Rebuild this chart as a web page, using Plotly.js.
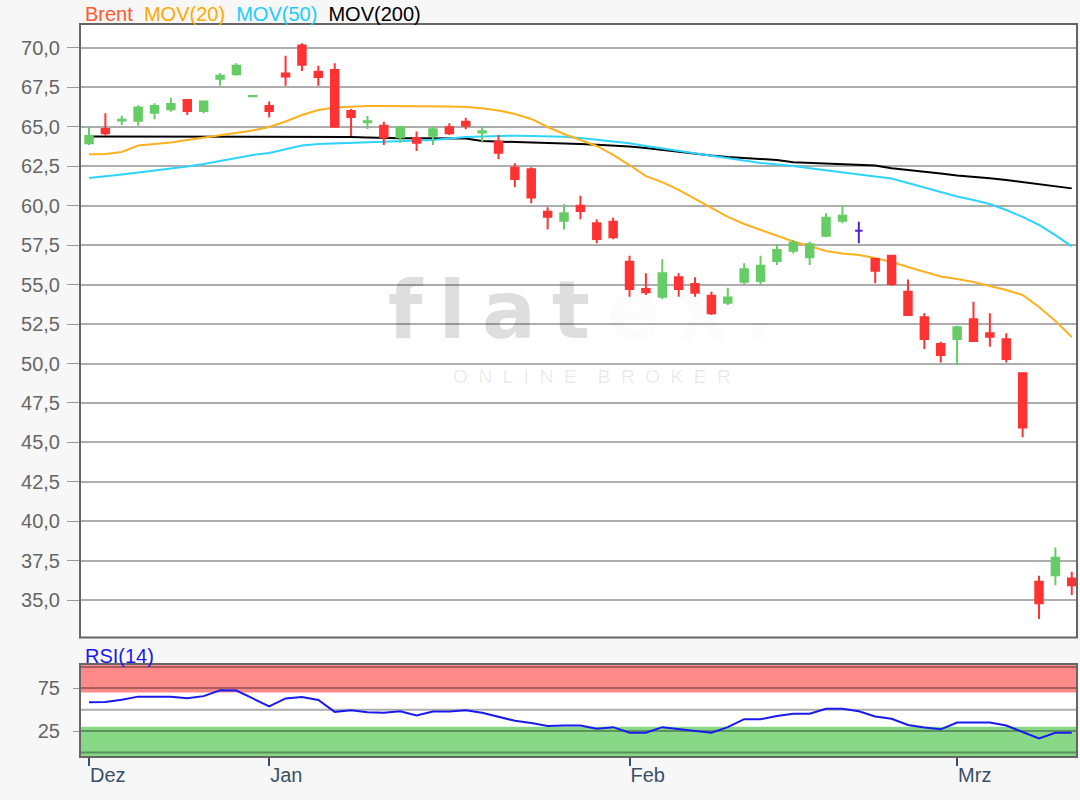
<!DOCTYPE html>
<html><head><meta charset="utf-8">
<script src="https://cdn.plot.ly/plotly-3.0.1.min.js"></script>
<style>html,body{margin:0;padding:0;background:#f7f7f7}</style>
</head><body><div id="chart" style="width:1080px;height:800px"></div>
<script>
const dates = ['2019-12-13','2019-12-16','2019-12-17','2019-12-18','2019-12-19','2019-12-20','2019-12-23','2019-12-24','2019-12-27','2019-12-30','2019-12-31',
'2020-01-02','2020-01-03','2020-01-06','2020-01-07','2020-01-08','2020-01-09','2020-01-10','2020-01-13','2020-01-14','2020-01-15','2020-01-16','2020-01-17','2020-01-20','2020-01-21','2020-01-22','2020-01-23','2020-01-24','2020-01-27','2020-01-28','2020-01-29','2020-01-30','2020-01-31',
'2020-02-03','2020-02-04','2020-02-05','2020-02-06','2020-02-07','2020-02-10','2020-02-11','2020-02-12','2020-02-13','2020-02-14','2020-02-17','2020-02-18','2020-02-19','2020-02-20','2020-02-21','2020-02-24','2020-02-25','2020-02-26','2020-02-27','2020-02-28',
'2020-03-02','2020-03-03','2020-03-04','2020-03-05','2020-03-06','2020-03-09','2020-03-10','2020-03-11'];

const open  = [63.96,64.86,65.40,65.39,65.90,66.11,66.70,66.00,68.05,68.33,66.94,66.32,68.38,70.15,68.50,68.60,66.00,65.30,65.07,64.34,64.27,64.44,64.97,65.33,64.65,64.06,62.41,62.31,59.62,59.05,60.00,58.89,58.99,56.45,54.72,54.23,55.46,55.04,54.30,53.85,55.18,55.23,56.50,57.15,56.73,58.10,59.05,58.42,56.62,56.83,54.55,52.93,51.23,51.55,52.80,51.91,51.53,49.38,36.16,36.58,36.37];
const high  = [65.00,65.86,65.71,66.37,66.49,66.85,66.72,66.62,68.40,69.03,66.97,66.60,69.51,70.30,68.88,69.03,66.13,65.69,65.33,65.00,64.70,65.00,65.23,65.58,65.00,64.48,62.69,62.44,59.90,60.09,60.64,59.14,59.24,56.83,55.72,56.60,55.72,55.46,54.55,54.80,56.35,56.83,57.57,57.83,57.72,59.52,60.00,58.99,56.62,56.87,55.33,53.18,51.38,52.39,53.91,53.18,51.91,49.40,36.54,38.34,36.80];
const low   = [63.85,64.42,65.12,65.07,65.48,65.96,65.75,65.86,67.60,68.24,66.93,65.60,67.61,68.54,67.61,64.95,64.42,64.86,63.85,64.00,63.47,63.85,64.48,64.85,64.00,62.94,61.17,60.16,58.50,58.50,59.14,57.62,57.87,54.23,54.34,54.07,54.23,54.23,53.07,53.71,55.04,54.97,56.24,56.98,56.24,58.00,58.89,57.62,55.08,54.93,53.07,50.92,50.07,49.90,51.42,51.06,50.07,45.32,33.80,35.95,35.32];
const close = [64.42,64.59,65.45,66.22,66.32,66.45,66.00,66.60,68.24,68.88,66.96,66.00,68.20,68.94,68.16,65.00,65.63,65.35,64.34,64.97,64.00,64.85,64.59,65.07,64.72,63.36,61.69,60.53,59.30,59.52,59.67,57.89,58.00,54.72,54.51,55.72,54.72,54.49,53.18,54.19,55.97,56.20,57.19,57.66,57.56,59.24,59.37,58.42,55.88,55.04,53.07,51.55,50.54,52.29,51.42,51.70,50.28,45.95,34.80,37.69,35.95];

const mov20  = [63.26,63.28,63.41,63.82,63.91,64.01,64.17,64.33,64.48,64.64,64.77,64.99,65.34,65.75,66.07,66.23,66.29,66.32,66.32,66.32,66.32,66.30,66.29,66.26,66.18,66.04,65.82,65.50,64.99,64.55,64.17,63.79,63.22,62.58,61.88,61.50,61.00,60.43,59.86,59.29,58.84,58.46,58.08,57.73,57.45,57.13,56.97,56.88,56.69,56.43,56.12,55.80,55.51,55.35,55.16,54.91,54.66,54.34,53.58,52.69,51.68];
const mov50  = [61.76,61.85,61.98,62.11,62.23,62.36,62.49,62.65,62.84,63.03,63.22,63.34,63.60,63.82,63.91,63.95,63.98,64.02,64.07,64.10,64.14,64.17,64.26,64.36,64.39,64.42,64.44,64.42,64.40,64.38,64.29,64.17,64.07,63.96,63.79,63.63,63.47,63.31,63.18,63.01,62.84,62.71,62.61,62.52,62.37,62.23,62.11,61.98,61.85,61.73,61.44,61.12,60.87,60.59,60.36,60.11,59.73,59.29,58.78,58.14,57.42];
const mov200 = [64.39,64.39,64.39,64.39,64.39,64.39,64.39,64.39,64.39,64.39,64.39,64.39,64.39,64.39,64.39,64.39,64.36,64.33,64.29,64.28,64.28,64.28,64.28,64.26,64.10,64.07,64.06,64.00,63.96,63.93,63.91,63.86,63.81,63.76,63.66,63.53,63.41,63.28,63.18,63.09,63.03,63.00,62.90,62.75,62.71,62.66,62.64,62.61,62.55,62.37,62.27,62.17,62.04,61.92,61.84,61.74,61.63,61.50,61.38,61.25,61.10];
const rsi14  = [58.6,59.0,61.5,65.2,65.2,65.2,63.2,65.8,72.6,72.4,63.1,53.7,63.1,64.9,61.2,47.4,49.3,47.0,46.3,48.1,43.3,47.8,47.8,49.3,46.3,41.4,36.9,34.3,31.0,31.3,31.3,27.6,29.5,23.1,23.1,29.5,27.6,25.0,23.1,29.5,38.8,38.8,42.5,45.2,45.2,51.1,51.1,48.0,42.0,39.4,32.0,29.0,27.0,35.0,35.0,35.0,31.5,24.3,16.2,23.0,23.0];

const monthKeys   = ['2019-12','2020-01','2020-02','2020-03'];
const monthLabels = ['Dez','Jan','Feb','Mrz'];
const rsiTicks = [25, 75];
const rsiGrid  = [0, 50, 100];
const rsiBands = [30, 70];

const n = dates.length;
const idx = dates.map((d, i) => i);
const monthIdx = monthKeys.map(k => dates.findIndex(d => d.startsWith(k)));
const moved = idx.filter(i => open[i] !== close[i]);
const flat  = idx.filter(i => open[i] === close[i]);
const pick = (arr, ix) => ix.map(i => arr[i]);

const xRange = [-0.55, n - 0.68];
const yRange = [32.63, 71.52];
const rRange = [-5.4, 103.4];
const fx = f => xRange[0] + f * (xRange[1] - xRange[0]);
const fy = f => yRange[0] + f * (yRange[1] - yRange[0]);

const FONT = 'Liberation Sans, Arial, sans-serif';
const GRID = 'rgba(0,0,0,0.32)';
const UP = '#66cc66', DOWN = '#ff3333', FLAT = '#5522cc';
const HS = '\u200a\u200a';
const wmText = '<b>f' + HS + 'l' + HS + 'a' + HS + 't' + HS + '<span style="color:rgba(0,0,0,0.085)">e' + HS + 'x' + HS + '.</span></b>';

const traces = [
  {type:'scatter', mode:'text', x:[fx(0.5025)], y:[fy(0.52)], text:[wmText],
   textfont:{family:'DejaVu Sans, sans-serif', size:80, color:'rgba(0,0,0,0.13)'}, hoverinfo:'skip', cliponaxis:false},
  {type:'scatter', mode:'text', x:[fx(0.5135)], y:[fy(0.423)], text:['O\u00a0\u00a0N\u00a0\u00a0L\u00a0\u00a0I\u00a0\u00a0N\u00a0\u00a0E\u00a0\u00a0\u00a0\u00a0B\u00a0\u00a0R\u00a0\u00a0O\u00a0\u00a0K\u00a0\u00a0E\u00a0\u00a0R'],
   textfont:{family:FONT, size:19, color:'rgba(0,0,0,0.09)'}, hoverinfo:'skip', cliponaxis:false},
  {type:'scatter', mode:'lines', x:idx, y:mov200, line:{color:'#000000', width:2}, hoverinfo:'skip'},
  {type:'scatter', mode:'lines', x:idx, y:mov50, line:{color:'#2dd4ff', width:2}, hoverinfo:'skip'},
  {type:'scatter', mode:'lines', x:idx, y:mov20, line:{color:'#ffb020', width:2}, hoverinfo:'skip'},
  {type:'candlestick', x:moved, open:pick(open,moved), high:pick(high,moved), low:pick(low,moved), close:pick(close,moved),
   xaxis:'x3', yaxis:'y3', whiskerwidth:0, hoverinfo:'skip',
   increasing:{line:{color:UP, width:2}, fillcolor:UP},
   decreasing:{line:{color:DOWN, width:2}, fillcolor:DOWN}},
  {type:'candlestick', x:flat, open:pick(open,flat), high:pick(high,flat), low:pick(low,flat), close:pick(close,flat),
   xaxis:'x3', yaxis:'y3', whiskerwidth:0, hoverinfo:'skip',
   increasing:{line:{color:FLAT, width:2}, fillcolor:FLAT},
   decreasing:{line:{color:FLAT, width:2}, fillcolor:FLAT}},
  {type:'scatter', mode:'lines', x:idx, y:rsi14, xaxis:'x2', yaxis:'y2', line:{color:'#1a1aee', width:2}, hoverinfo:'skip'}
];

const shapes = [
  {type:'rect', xref:'x2 domain', x0:0, x1:1, yref:'y2', y0:rsiBands[1], y1:rRange[1], fillcolor:'#ff8a8a', line:{width:0}, layer:'below'},
  {type:'rect', xref:'x2 domain', x0:0, x1:1, yref:'y2', y0:rRange[0], y1:rsiBands[0], fillcolor:'#88d888', line:{width:0}, layer:'below'}
].concat(rsiGrid.map(v => ({type:'line', xref:'x2 domain', x0:0, x1:1, yref:'y2', y0:v, y1:v, line:{color:GRID, width:2}, layer:'below'})))
 .concat([
  {type:'rect', xref:'paper', x0:0, x1:1, yref:'paper', y0:0.163, y1:1, line:{color:'#666', width:2}, fillcolor:'rgba(0,0,0,0)', layer:'above'},
  {type:'rect', xref:'paper', x0:0, x1:1, yref:'paper', y0:0, y1:0.1269, line:{color:'#666', width:2}, fillcolor:'rgba(0,0,0,0)', layer:'above'}
]);

const legendText = '<span style="color:#ff5a2e">Brent</span>\u00a0\u00a0<span style="color:#ffaa00">MOV(20)</span>\u00a0\u00a0<span style="color:#22ccff">MOV(50)</span>\u00a0\u00a0<span style="color:#000000">MOV(200)</span>';

const layout = {
  width:1080, height:800,
  margin:{l:80, r:3, t:24, b:43, pad:0},
  paper_bgcolor:'#f7f7f7', plot_bgcolor:'#ffffff',
  font:{family:FONT, size:20, color:'#666'},
  separators:',.',
  showlegend:false, hovermode:false,
  boxgap:0.35,
  xaxis:{anchor:'y', range:xRange, showticklabels:false, ticks:'', showgrid:false, zeroline:false, showline:false, rangeslider:{visible:false}},
  yaxis:{anchor:'x', domain:[0.163, 1], range:yRange, tick0:0, dtick:2.5, tickformat:'.1f',
         ticks:'outside', ticklen:12, tickwidth:1, tickcolor:'#999', ticklabelstandoff:3,
         tickfont:{family:FONT, size:20, color:'#666'}, showgrid:true, gridcolor:GRID, gridwidth:2, zeroline:false, showline:false},
  xaxis3:{overlaying:'x', anchor:'y3', range:xRange, visible:false, showgrid:false, zeroline:false, rangeslider:{visible:false}},
  yaxis3:{overlaying:'y', anchor:'x3', range:yRange, visible:false, showgrid:false, zeroline:false},
  xaxis2:{anchor:'y2', range:xRange, tickmode:'array', tickvals:monthIdx, ticktext:monthLabels,
          ticks:'outside', ticklen:8, tickwidth:2, tickcolor:'#3a5068', ticklabelposition:'outside right',
          tickfont:{family:FONT, size:20, color:'#3a5068'}, showgrid:false, zeroline:false, showline:false},
  yaxis2:{anchor:'x2', domain:[0, 0.1269], range:rRange, tickmode:'array', tickvals:rsiTicks, ticktext:rsiTicks.map(String),
          ticks:'outside', ticklen:6, tickwidth:1, tickcolor:'#999', ticklabelstandoff:9,
          tickfont:{family:FONT, size:20, color:'#666'}, showgrid:true, gridcolor:GRID, gridwidth:2, zeroline:false, showline:false},
  shapes:shapes,
  annotations:[
    {xref:'paper', yref:'paper', x:0.003, y:1.0136, xanchor:'left', yanchor:'middle', showarrow:false, text:legendText, font:{family:FONT, size:20}},
    {xref:'paper', yref:'paper', x:0.003, y:0.138, xanchor:'left', yanchor:'middle', showarrow:false, text:'RSI(14)', font:{family:FONT, size:20, color:'#1a1aee'}}
  ]
};

Plotly.newPlot('chart', traces, layout, {staticPlot:true, displayModeBar:false});
</script>
</body></html>
